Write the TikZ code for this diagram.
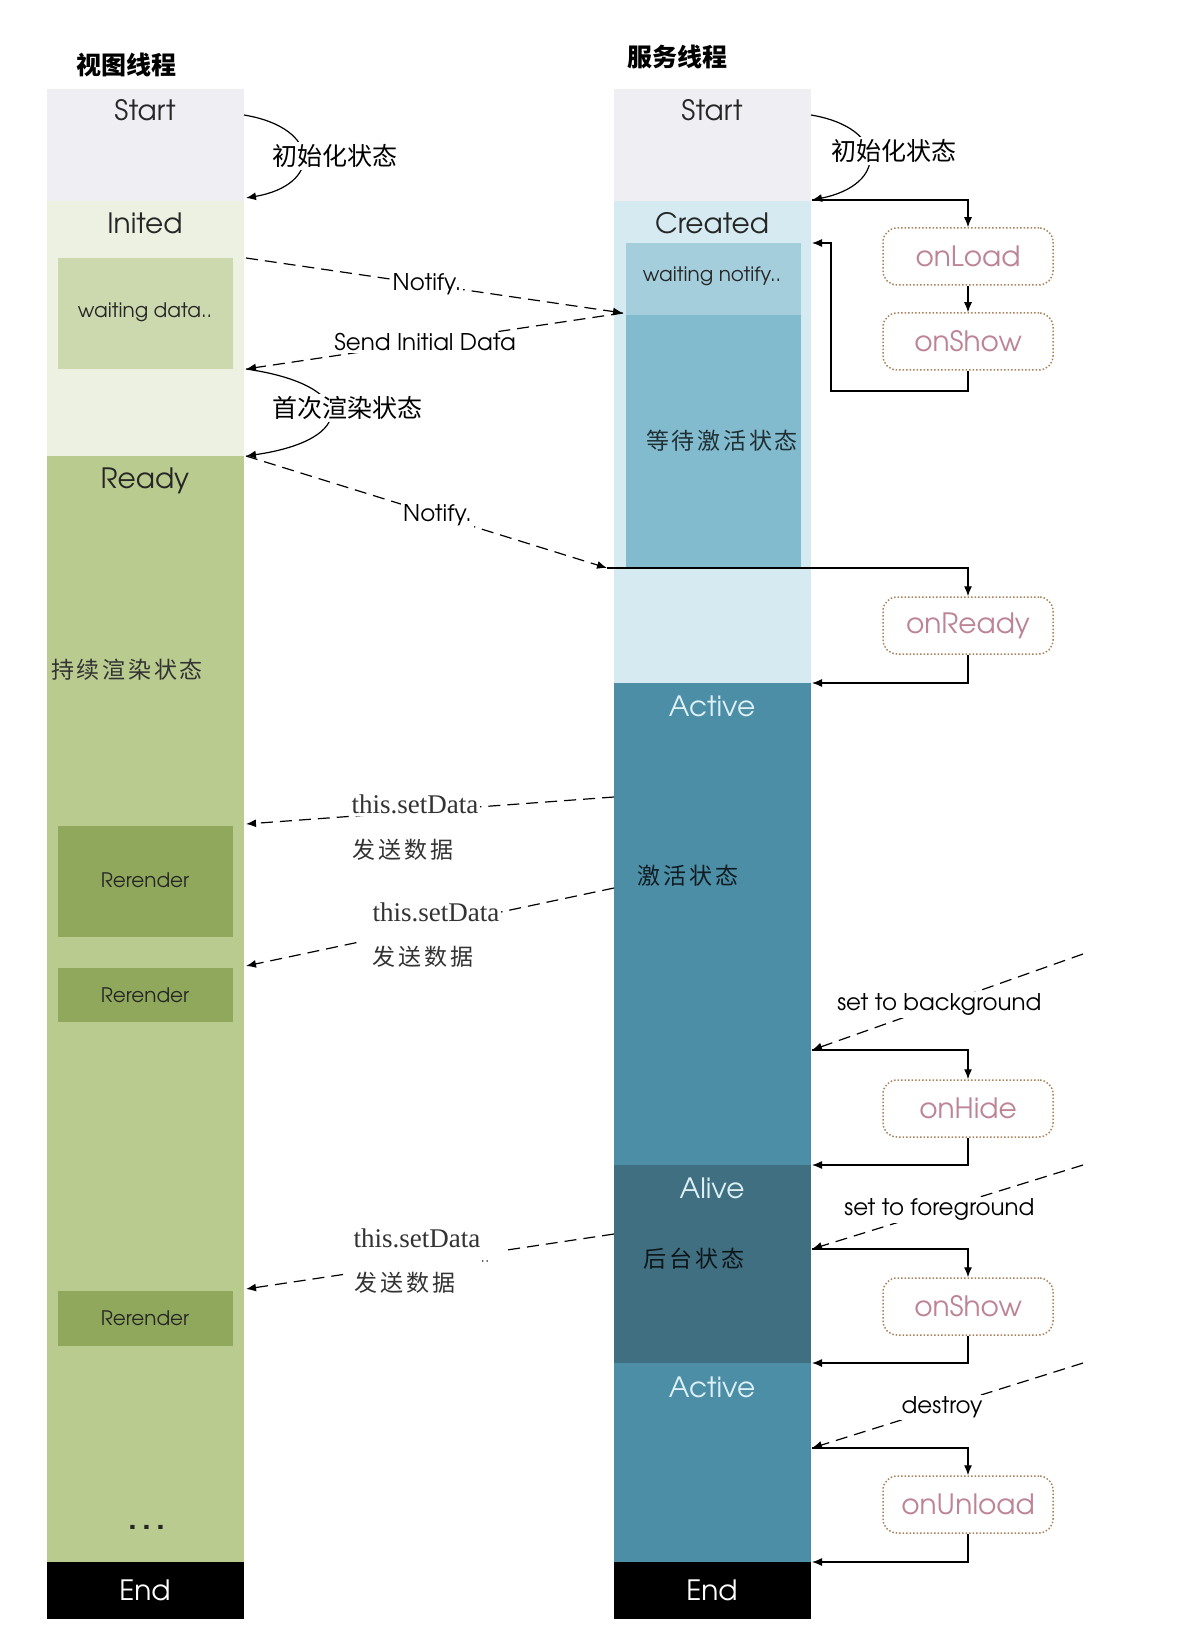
\documentclass[tikz,border=0pt]{standalone}
\usepackage{fontspec}
\setmainfont{texgyreadventor-regular.otf}[BoldFont=texgyreadventor-bold.otf]
\newfontfamily\cjk{Noto Sans CJK SC}
\newfontfamily\cjks{Noto Sans CJK SC}[LetterSpace=12]
\newfontfamily\serifit{Liberation Serif}
\usetikzlibrary{arrows.meta,calc}
\definecolor{cStart}{HTML}{EFEEF3}
\definecolor{cInited}{HTML}{ECF1E2}
\definecolor{cWait}{HTML}{CCD9AF}
\definecolor{cReady}{HTML}{B9CB8F}
\definecolor{cRerender}{HTML}{8FA85B}
\definecolor{cCreated}{HTML}{D5EAF1}
\definecolor{cWaitN}{HTML}{A5CEDD}
\definecolor{cWaitAct}{HTML}{82BBCE}
\definecolor{cActive}{HTML}{4C8EA5}
\definecolor{cAlive}{HTML}{3F6F80}
\definecolor{cHookText}{HTML}{BC8494}
\definecolor{cHookBorder}{HTML}{A8825A}
\definecolor{cLight}{HTML}{DDF0F6}
\begin{document}
\begin{tikzpicture}[x=0.5pt,y=-0.5pt,
  statetxt/.style={font=\fontsize{14}{16}\selectfont, text=black!85, inner sep=0pt},
  lightstate/.style={statetxt, text=cLight},
  smalltxt/.style={font=\fontsize{10}{12}\selectfont, text=black!85, inner sep=0pt},
  hook/.style={draw=cHookBorder, densely dotted, rounded corners=7pt, fill=white,
    minimum width=85pt, minimum height=28.5pt, text=cHookText,
    font=\fontsize{14}{16}\selectfont, line width=0.75pt},
  flow/.style={-{Latex[length=5pt,width=4pt]}, line width=0.6pt},
  msg/.style={flow, dash pattern=on 6pt off 3.5pt},
  plainmsg/.style={line width=0.6pt, dash pattern=on 6pt off 3.5pt},
  lbl/.style={fill=white, inner sep=1pt, font=\fontsize{11.5}{13}\selectfont},
  cjklbl/.style={fill=white, inner sep=1pt, font=\cjk\fontsize{12.5}{14}\selectfont},
  cjkstate/.style={inner sep=0pt, font=\cjks\fontsize{11.5}{14}\selectfont},
  setlbl/.style={fill=white, inner sep=1pt, text=black!80, font=\serifit\fontsize{13.5}{15}\selectfont},
  sendlbl/.style={fill=white, inner sep=1pt, text=black!80, font=\cjks\fontsize{11.5}{14}\selectfont},
  title/.style={inner sep=0pt, font=\cjk\bfseries\fontsize{12.5}{14}\selectfont}
]
\useasboundingbox[fill=white] (0,0) rectangle (1188,1636);

% ---------------- left column (view thread)
\fill[cStart] (47,89) rectangle (244,201);
\fill[cInited] (47,201) rectangle (244,456);
\fill[cWait] (58,258) rectangle (233,369);
\fill[cReady] (47,456) rectangle (244,1562);
\fill[cRerender] (58,826) rectangle (233,937);
\fill[cRerender] (58,968) rectangle (233,1022);
\fill[cRerender] (58,1291) rectangle (233,1346);
\fill[black] (47,1562) rectangle (244,1619);

% ---------------- right column (service thread)
\fill[cStart] (614,89) rectangle (811,201);
\fill[cCreated] (614,201) rectangle (811,683);
\fill[cWaitN] (626,243) rectangle (801,315);
\fill[cWaitAct] (626,315) rectangle (801,568);
\fill[cActive] (614,683) rectangle (811,1165);
\fill[cAlive] (614,1165) rectangle (811,1363);
\fill[cActive] (614,1363) rectangle (811,1562);
\fill[black] (614,1562) rectangle (811,1619);

% ---------------- titles
\node[title] (tView) at (126,65) {视图线程};
\node[title] (tServ) at (677,57) {服务线程};

% ---------------- left texts
\node[statetxt] (lStart) at (145,110) {Start};
\node[statetxt] (lInited) at (145,223) {Inited};
\node[smalltxt] (lWait) at (145,312) {waiting data..};
\node[statetxt] (lReady) at (145,481) {Ready};
\node[cjkstate, text=black!80] (lKeep) at (127,670) {持续渲染状态};
\node[smalltxt] (lRe1) at (145,880) {Rerender};
\node[smalltxt] (lRe2) at (145,995) {Rerender};
\node[smalltxt] (lRe3) at (145,1318) {Rerender};
\node[statetxt, font=\bfseries\fontsize{16}{16}\selectfont] (lDots) at (147,1527) {.\,.\,.};
\node[statetxt, text=white] (lEnd) at (145,1590) {End};

% ---------------- right texts
\node[statetxt] (rStart) at (712,110) {Start};
\node[statetxt] (rCreated) at (712,223) {Created};
\node[smalltxt] (rWaitN) at (712,276) {waiting notify..};
\node[cjkstate, text=black!75!cWaitAct] (rWaitAct) at (722,441) {等待激活状态};
\node[lightstate] (rActive1) at (712,706) {Active};
\node[cjkstate, text=black!80!cActive] (rAct) at (688,876) {激活状态};
\node[lightstate] (rAlive) at (712,1188) {Alive};
\node[cjkstate, text=black!80!cAlive] (rBack) at (694,1259) {后台状态};
\node[lightstate] (rActive2) at (712,1387) {Active};
\node[statetxt, text=white] (rEnd) at (712,1590) {End};

% ---------------- lifecycle hooks
\node[hook] (onLoad) at (968,256.5) {onLoad};
\node[hook] (onShowA) at (968,341.5) {onShow};
\node[hook] (onReady) at (968,625.5) {onReady};
\node[hook] (onHide) at (968,1108.5) {onHide};
\node[hook] (onShowB) at (968,1306.5) {onShow};
\node[hook] (onUnload) at (968,1504.5) {onUnload};

% ---------------- anchor coordinates on the columns
\coordinate (LstartR) at (244,115);
\coordinate (LinitTop) at (246,198);
\coordinate (LinN) at (246,258);
\coordinate (RwN) at (623,313);
\coordinate (LwD) at (246,369);
\coordinate (LreadyTop) at (246,456);
\coordinate (RnotifyEnd) at (607,568);
\coordinate (RstartR) at (811,115);
\coordinate (RcreatedTop) at (812,200);
\coordinate (RloadBack) at (812,243);
\coordinate (RreadyBack) at (812,683);
\coordinate (RsA) at (614,797);
\coordinate (LsA) at (246,824);
\coordinate (RsB) at (614,888);
\coordinate (LsB) at (246,966);
\coordinate (RsC) at (614,1234);
\coordinate (LsC) at (246,1289);
\coordinate (bgS) at (1083,954);
\coordinate (bgE) at (812,1050);
\coordinate (hideBack) at (812,1165);
\coordinate (fgS) at (1083,1165);
\coordinate (fgE) at (812,1249);
\coordinate (showBack) at (812,1363);
\coordinate (dsS) at (1083,1363);
\coordinate (dsE) at (812,1448);
\coordinate (unloadBack) at (812,1562);

% ---------------- left-side state arcs
\draw[flow] (LstartR) .. controls (322,128) and (322,185) .. (LinitTop);
\node[cjklbl] (lInitState) at (335,156) {初始化状态};
\draw[flow] (LwD) .. controls (358,385) and (358,440) .. (LreadyTop);
\node[cjklbl] (lFirst) at (347,408) {首次渲染状态};

% ---------------- right-side state arc
\draw[flow] (RstartR) .. controls (888,128) and (888,185) .. (RcreatedTop);
\node[cjklbl] (rInitState) at (894,151) {初始化状态};

% ---------------- messages between threads
\draw[msg] (LinN) -- node[lbl, pos=0.48] (mNotify1) {Notify.} (RwN);
\draw[msg] (RwN) -- node[lbl, pos=0.525] (mSend) {Send Initial Data} (LwD);
\draw[msg] (LreadyTop) -- node[lbl, pos=0.53] (mNotify2) {Notify.} (RnotifyEnd);

\draw[msg] (RsA) -- (LsA);
\node[setlbl] (mSet1) at (415,804) {this.setData};
\node[sendlbl] (mSend1) at (403,850) {发送数据};
\draw[plainmsg] (RsB) -- ($(RsB)!0.31!(LsB)$);
\draw[msg] ($(RsB)!0.70!(LsB)$) -- (LsB);
\node[setlbl] (mSet2) at (436,912) {this.setData};
\node[sendlbl] (mSend2) at (423,957) {发送数据};
\draw[plainmsg] (RsC) -- ($(RsC)!0.296!(LsC)$);
\draw[msg] ($(RsC)!0.736!(LsC)$) -- (LsC);
\node[setlbl] (mSet3) at (417,1238) {this.setData};
\node[sendlbl] (mSend3) at (405,1283) {发送数据};
\node[inner sep=0pt, text=black!70, font=\fontsize{8}{8}\selectfont] (mDots3) at (485,1261) {..};

% ---------------- service lifecycle flows
\draw[flow] (RcreatedTop) -| (onLoad.north);
\draw[flow] (onLoad) -- (onShowA);
\draw[flow] (onShowA.south) |- (831,391) |- (RloadBack);
\draw[flow] (RnotifyEnd) -| (onReady.north);
\draw[flow] (onReady.south) |- (RreadyBack);

\draw[msg] (bgS) -- node[lbl, pos=0.53] (mBg) {set to background} (bgE);
\draw[flow] (bgE) -| (onHide.north);
\draw[flow] (onHide.south) |- (hideBack);

\draw[msg] (fgS) -- node[lbl, pos=0.53] (mFg) {set to foreground} (fgE);
\draw[flow] (fgE) -| (onShowB.north);
\draw[flow] (onShowB.south) |- (showBack);

\draw[msg] (dsS) -- node[lbl, pos=0.52] (mDs) {destroy} (dsE);
\draw[flow] (dsE) -| (onUnload.north);
\draw[flow] (onUnload.south) |- (unloadBack);
\end{tikzpicture}
\end{document}
